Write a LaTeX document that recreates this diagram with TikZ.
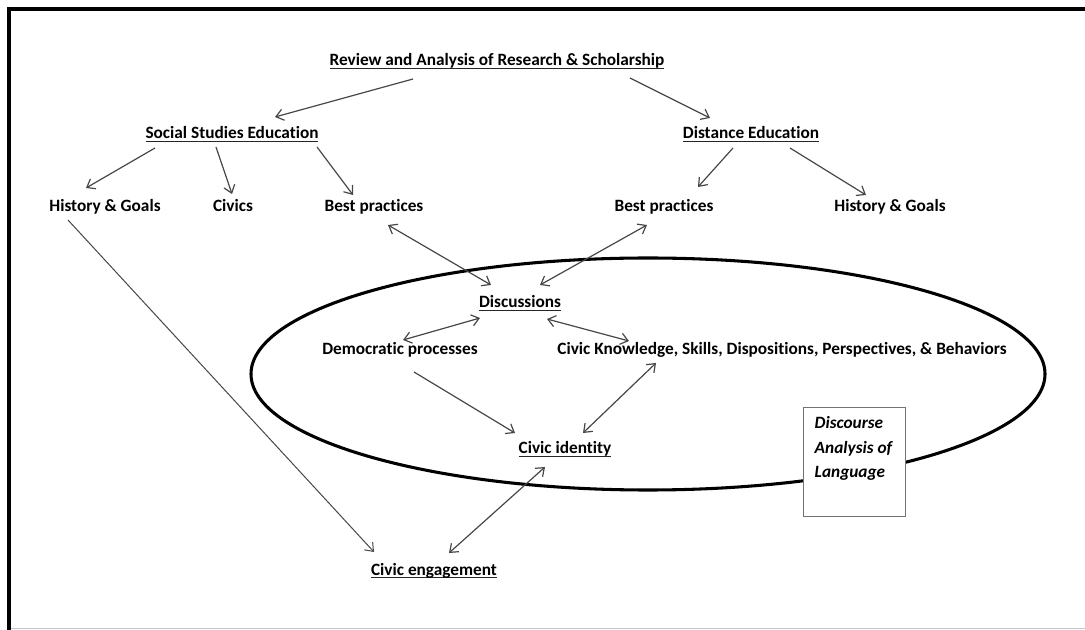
\documentclass[tikz,border=0pt]{standalone}
\usepackage{fontspec}
\setmainfont{Carlito}[Ligatures=CommonOff]
\usetikzlibrary{arrows.meta,calc}
\newcommand\ulx[1]{\setbox0\hbox{#1}\rlap{\color{black!85}\rule[-2.4pt]{\wd0}{0.95pt}}\box0}
\tikzset{
  lbl/.style={font=\fontsize{12.95}{15}\selectfont\bfseries, text=black, inner sep=0pt, anchor=base},
  arr/.style={draw=black!72, line width=0.9pt, -{Straight Barb[length=5.5pt,width=8.5pt]}},
  darr/.style={arr, {Straight Barb[length=5.5pt,width=8.5pt]}-{Straight Barb[length=5.5pt,width=8.5pt]}},
  dalbox/.style={draw=black!55, line width=1.1pt, fill=white, inner sep=0pt, anchor=north west},
  frame/.style={line width=3pt, black},
}
\begin{document}
\begin{tikzpicture}[x=0.75pt, y=-0.75pt]
\useasboundingbox (0,0) rectangle (1085,630);
% frame
\draw[frame] (7,9) -- (1085,9);
\draw[frame] (9,7) -- (9,630);
\draw[black!22, line width=1.1pt] (11,628.5) -- (1085,628.5);
% ellipse
\draw[line width=2.3pt] (648,374) ellipse [x radius=297.75pt, y radius=87pt];
% box
\node[dalbox] (dal) at (803,407) {\begin{minipage}[t][81.75pt][t]{76.5pt}\raggedright\leftskip=8.25pt
\fontsize{12.95}{18.4}\selectfont\bfseries\itshape\rule{0pt}{15.75pt}Discourse\\Analysis of\\Language\end{minipage}};
% labels
\node[lbl] (rev) at (497,66) {\ulx{Review and Analysis of Research \& Scholarship}};
\node[lbl] (soc) at (232,139) {\ulx{Social Studies Education}};
\node[lbl] (dist) at (751,139) {\ulx{Distance Education}};
\node[lbl] (hgl) at (105,212) {History \& Goals};
\node[lbl] (civ) at (233,212) {Civics};
\node[lbl] (bpl) at (374,212) {Best practices};
\node[lbl] (bpr) at (664,212) {Best practices};
\node[lbl] (hgr) at (890,212) {History \& Goals};
\node[lbl] (disc) at (520,308) {\ulx{Discussions}};
\node[lbl] (dem) at (400,355) {Democratic processes};
\node[lbl] (ckn) at (782,355) {Civic Knowledge, Skills, Dispositions, Perspectives, \& Behaviors};
\node[lbl] (cid) at (565,454) {\ulx{Civic identity}};
\node[lbl] (ceng) at (434,575) {\ulx{Civic engagement}};
% connectors
\draw[arr] ($(rev.base)+(-84,13)$) -- ($(soc.base)+(43,-22)$);
\draw[arr] ($(rev.base)+(133,12)$) -- ($(dist.base)+(-41,-21)$);
\draw[arr] ($(soc.base)+(-77,9)$) -- ($(hgl.base)+(-19,-24)$);
\draw[arr] ($(soc.base)+(-16,8)$) -- ($(civ.base)+(-1,-18)$);
\draw[arr] ($(soc.base)+(85,8)$) -- ($(bpl.base)+(-21,-17)$);
\draw[arr] ($(dist.base)+(-18,9)$) -- ($(bpr.base)+(34,-25)$);
\draw[arr] ($(dist.base)+(39,9)$) -- ($(hgr.base)+(-24,-17)$);
\draw[darr] ($(bpl.base)+(14,13)$) -- ($(disc.base)+(-29,-23)$);
\draw[darr] ($(bpr.base)+(-17,13)$) -- ($(disc.base)+(20,-23)$);
\draw[darr] ($(disc.base)+(-40,10)$) -- ($(dem.base)+(3,-15)$);
\draw[darr] ($(disc.base)+(27,11)$) -- ($(ckn.base)+(-153,-14)$);
\draw[arr] ($(dem.base)+(14,17)$) -- ($(cid.base)+(-50,-21)$);
\draw[darr] ($(ckn.base)+(-126,8)$) -- ($(cid.base)+(18,-21)$);
\draw[darr] ($(cid.base)+(-20,13)$) -- ($(ceng.base)+(15,-22)$);
\draw[arr, line width=0.75pt] ($(hgl.base)+(-37,8)$) -- ($(ceng.base)+(-60,-23)$);
\end{tikzpicture}
\end{document}
